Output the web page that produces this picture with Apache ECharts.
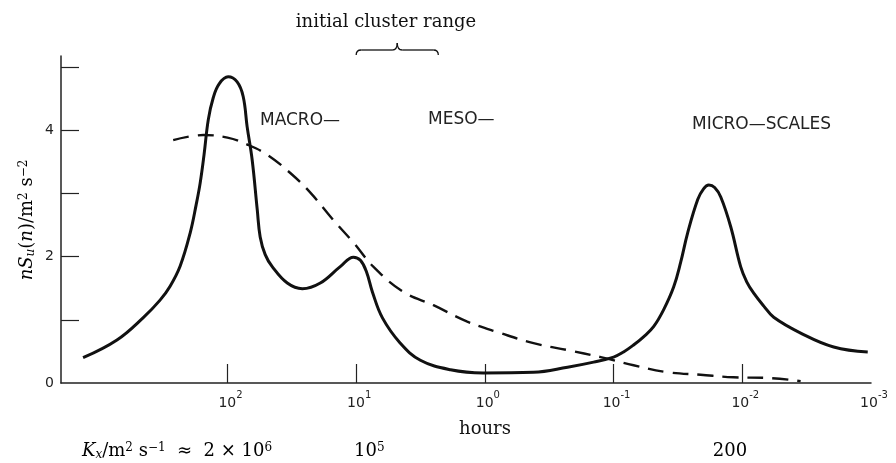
<!DOCTYPE html>
<html>
<head>
<meta charset="utf-8">
<script src="https://cdn.jsdelivr.net/npm/echarts@6/dist/echarts.min.js"></script>
<style>
html, body { margin: 0; background: #fff; }
#layout { width: 896px; height: 463px; }
</style>
</head>
<body>
<div id="layout"></div>
<script>
// periods in hours, spectral values nS_u(n) in m^2 s^-2
let solidHours = [1324, 722, 453, 334, 279, 233, 195, 175, 163, 152, 141, 129, 116, 98.8, 84.1, 75.5, 70.3, 64.3, 58.7, 55.7, 50.9, 44.9,
    34.3, 26.2, 19.0, 13.3, 10.5, 9.27, 8.32, 7.48, 6.25, 4.54, 3.17, 1.85, 1.03, 0.419, 0.228, 0.143, 0.100, 0.0837, 0.0700, 0.0585, 0.0489,
    0.0408, 0.0341, 0.0301, 0.0266, 0.0222, 0.0200, 0.0182, 0.0164, 0.0147, 0.0123, 0.0103, 0.00924, 0.00815, 0.00683, 0.00570, 0.00352, 0.00195, 0.00106];
let solidValues = [0.40, 0.68, 1.03, 1.31, 1.53, 1.85, 2.37, 2.82, 3.16, 3.61, 4.16, 4.51, 4.73, 4.84, 4.76, 4.53, 4.05, 3.53, 2.74, 2.31, 2.03, 1.84,
    1.58, 1.49, 1.58, 1.84, 1.99, 1.94, 1.76, 1.44, 1.03, 0.63, 0.36, 0.21, 0.16, 0.17, 0.25, 0.33, 0.41, 0.49, 0.60, 0.73, 0.89,
    1.16, 1.52, 1.91, 2.37, 2.90, 3.07, 3.13, 3.09, 2.94, 2.47, 1.84, 1.60, 1.42, 1.22, 1.04, 0.79, 0.57, 0.49];
let dashedHours = [264, 154, 100, 70, 49.2, 32.5, 22.7, 15.1, 10.5, 7.36, 4.30, 2.51, 1.37, 0.758, 0.419, 0.228, 0.126, 0.070, 0.0381, 0.0211, 0.0117, 0.00637, 0.00352];
let dashedValues = [3.84, 3.92, 3.88, 3.77, 3.61, 3.32, 3.01, 2.58, 2.22, 1.84, 1.44, 1.23, 0.97, 0.79, 0.63, 0.52, 0.41, 0.28, 0.17, 0.13, 0.09, 0.08, 0.03];

let xTickHours = [100, 10, 1, 0.1, 0.01];
let xLabelHours = [100, 10, 1, 0.1, 0.01, 0.001];
let yTicks = [1, 2, 3, 4, 5];
let yLabels = [0, 2, 4];
let clusterRange = [10, 2.3];

let serif = '"DejaVu Serif", "Liberation Serif", serif';
let sans = '"DejaVu Sans", sans-serif';

function pairs(xs, ys) {
    return xs.map(function (x, i) { return [x, ys[i]]; });
}

let myChart = echarts.init(document.getElementById('layout'));
let option = {
    backgroundColor: '#fff',
    animation: false,
    grid: { left: 61, right: 25, top: 56, bottom: 80, outerBoundsMode: 'none' },
    xAxis: {
        type: 'log',
        inverse: true,
        min: 0.001,
        max: 1965,
        axisLine: { lineStyle: { color: '#222', width: 1.5 } },
        axisTick: { inside: true, length: 19, customValues: xTickHours, lineStyle: { color: '#222', width: 1.2 } },
        minorTick: { show: false },
        splitLine: { show: false },
        axisLabel: {
            customValues: xLabelHours,
            margin: 7,
            formatter(value) {
                let e = Math.round(Math.log10(value));
                return '{pad|}{b|10}{sup|' + e + '}';
            },
            rich: {
                pad: { width: 6 },
                b: { fontFamily: sans, fontSize: 14, color: '#222', lineHeight: 20, verticalAlign: 'bottom' },
                sup: { fontFamily: sans, fontSize: 10, color: '#222', lineHeight: 12, verticalAlign: 'top' }
            }
        }
    },
    yAxis: {
        type: 'value',
        min: 0,
        max: 5.17,
        axisLine: { show: true, lineStyle: { color: '#222', width: 1.5 } },
        axisTick: { show: true, inside: true, length: 18, customValues: yTicks, lineStyle: { color: '#222', width: 1.2 } },
        splitLine: { show: false },
        axisLabel: { customValues: yLabels, margin: 7, fontFamily: sans, fontSize: 14, color: '#222' }
    },
    series: [
        {
            type: 'line',
            data: pairs(solidHours, solidValues),
            showSymbol: false,
            smooth: 0.4,
            lineStyle: { color: '#111', width: 3 }
        },
        {
            type: 'line',
            data: pairs(dashedHours, dashedValues),
            showSymbol: false,
            smooth: 0.4,
            lineStyle: { color: '#111', width: 2.4, type: [16, 9] }
        }
    ]
};
myChart.setOption(option);

// brace above the initial cluster range
let bx1 = myChart.convertToPixel({ xAxisIndex: 0 }, clusterRange[0]);
let bx2 = myChart.convertToPixel({ xAxisIndex: 0 }, clusterRange[1]);
let bm = (bx1 + bx2) / 2;
let braceStyle = { fill: null, stroke: '#111', lineWidth: 1.3 };
let brace = [
    { type: 'bezierCurve', shape: { x1: bx1, y1: 55, x2: bx1 + 5, y2: 50, cpx1: bx1, cpy1: 50 }, style: braceStyle },
    { type: 'line', shape: { x1: bx1 + 5, y1: 50, x2: bm - 5, y2: 50 }, style: braceStyle },
    { type: 'bezierCurve', shape: { x1: bm - 5, y1: 50, x2: bm, y2: 43, cpx1: bm, cpy1: 50 }, style: braceStyle },
    { type: 'bezierCurve', shape: { x1: bm, y1: 43, x2: bm + 5, y2: 50, cpx1: bm, cpy1: 50 }, style: braceStyle },
    { type: 'line', shape: { x1: bm + 5, y1: 50, x2: bx2 - 5, y2: 50 }, style: braceStyle },
    { type: 'bezierCurve', shape: { x1: bx2 - 5, y1: 50, x2: bx2, y2: 55, cpx1: bx2, cpy1: 50 }, style: braceStyle }
];

// token height decides the vertical offset of sup/sub inside a 24px line
let richMath = {
    r: { fontFamily: serif, fontSize: 18, color: '#111', lineHeight: 24, verticalAlign: 'middle' },
    i: { fontFamily: serif, fontSize: 18, fontStyle: 'italic', color: '#111', lineHeight: 24, verticalAlign: 'middle' },
    sup: { fontFamily: serif, fontSize: 12, color: '#111', height: 17, lineHeight: 17, verticalAlign: 'top' },
    sub: { fontFamily: serif, fontSize: 12, fontStyle: 'italic', color: '#111', height: 17, lineHeight: 17, verticalAlign: 'bottom' }
};

let labels = [
    { type: 'text', x: 386, y: 22, style: { text: 'initial cluster range', font: '18px ' + serif, fill: '#111', textAlign: 'center', textVerticalAlign: 'middle' } },
    { type: 'text', x: 260, y: 121, style: { text: 'MACRO—', font: '17px ' + sans, fill: '#222', textAlign: 'left', textVerticalAlign: 'middle' } },
    { type: 'text', x: 428, y: 120, style: { text: 'MESO—', font: '17px ' + sans, fill: '#222', textAlign: 'left', textVerticalAlign: 'middle' } },
    { type: 'text', x: 692, y: 125, style: { text: 'MICRO—SCALES', font: '17px ' + sans, fill: '#222', textAlign: 'left', textVerticalAlign: 'middle' } },
    { type: 'text', x: 485, y: 429, style: { text: 'hours', font: '18px ' + serif, fill: '#111', textAlign: 'center', textVerticalAlign: 'middle' } },
    { type: 'text', x: 82, y: 451, style: { text: '{i|K}{sub|x}{r|/m}{sup|2}{r| s}{sup|−1}{r|  ≈  2 × 10}{sup|6}', rich: richMath, textAlign: 'left', textVerticalAlign: 'middle' } },
    { type: 'text', x: 354, y: 451, style: { text: '{r|10}{sup|5}', rich: richMath, textAlign: 'left', textVerticalAlign: 'middle' } },
    { type: 'text', x: 730, y: 451, style: { text: '{r|200}', rich: richMath, textAlign: 'center', textVerticalAlign: 'middle' } },
    { type: 'text', x: 27, y: 220, rotation: Math.PI / 2, style: { text: '{i|nS}{sub|u}{r|(}{i|n}{r|)/m}{sup|2}{r| s}{sup|−2}', rich: richMath, textAlign: 'center', textVerticalAlign: 'middle' } }
];

myChart.setOption({ graphic: brace.concat(labels) });
window.onresize = myChart.resize;
</script>
</body>
</html>
